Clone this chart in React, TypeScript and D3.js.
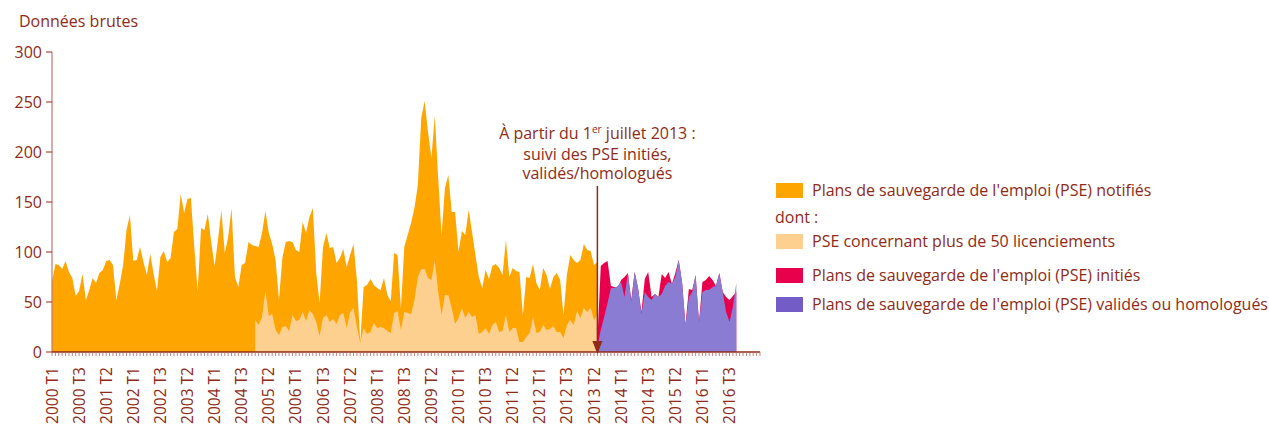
import React, { useEffect, useRef } from "react";
import * as d3 from "d3";

// monthly values, Jan 2000 = index 0
const notifies = [
  70, 88, 87, 83, 91, 80, 74, 56, 61, 78,
  52, 62, 74, 69, 79, 82, 91, 92, 87, 52,
  68, 87, 122, 137, 91, 92, 105, 90, 77, 98,
  78, 61, 95, 101, 90, 94, 120, 123, 158, 139,
  153, 154, 105, 61, 124, 122, 138, 110, 86, 112,
  142, 99, 115, 144, 75, 65, 87, 89, 110, 107,
  106, 105, 119, 141, 119, 108, 92, 52, 94, 110,
  111, 110, 102, 100, 130, 119, 135, 144, 79, 49,
  105, 119, 104, 105, 89, 94, 103, 85, 97, 108,
  72, 10, 65, 67, 73, 67, 64, 62, 74, 57,
  51, 99, 97, 44, 105, 117, 129, 144, 167, 234,
  251, 220, 194, 236, 174, 117, 164, 177, 140, 140,
  100, 121, 117, 142, 120, 97, 75, 64, 82, 73,
  86, 88, 84, 77, 112, 75, 84, 81, 80, 37,
  75, 74, 88, 69, 62, 84, 77, 63, 75, 79,
  72, 37, 77, 97, 92, 89, 92, 108, 102, 101,
  87, 90,
];

// PSE > 50 licenciements, from 2005 T1
const plus50Start = 60;
const plus50 = [
  32, 27, 35, 61, 36, 38, 22, 17, 25, 26,
  21, 37, 31, 32, 40, 31, 42, 38, 30, 16,
  34, 37, 30, 33, 28, 37, 39, 24, 40, 44,
  25, 9, 24, 18, 20, 29, 24, 25, 24, 21,
  19, 39, 41, 22, 40, 39, 38, 52, 75, 83,
  83, 74, 72, 92, 60, 37, 57, 57, 44, 28,
  34, 44, 34, 40, 35, 37, 18, 20, 24, 18,
  27, 30, 20, 21, 37, 20, 24, 24, 10, 10,
  15, 19, 35, 19, 20, 27, 22, 23, 26, 20,
  20, 14, 27, 32, 27, 41, 34, 44, 40, 44,
  32, 37,
];

// from July 2013
const newStart = 161;
const inities = [
  12, 86, 89, 91, 66, 65, 64, 72, 75, 79,
  52, 80, 64, 40, 73, 80, 55, 58, 55, 78,
  74, 80, 68, 79, 92, 70, 27, 63, 62, 77,
  30, 70, 72, 76, 72, 66, 79, 60, 55, 52,
  56, 60,
];
const valides = [
  5, 22, 35, 49, 64, 64, 66, 70, 55, 79,
  50, 80, 64, 38, 60, 55, 52, 58, 55, 58,
  66, 70, 68, 75, 92, 70, 27, 55, 60, 77,
  30, 60, 62, 62, 65, 66, 79, 60, 40, 30,
  45, 69,
];

const tickLabels = [
  "2000 T1", "2000 T3", "2001 T2", "2002 T1", "2002 T3", "2003 T2", "2004 T1",
  "2004 T3", "2005 T2", "2006 T1", "2006 T3", "2007 T2", "2008 T1", "2008 T3",
  "2009 T2", "2010 T1", "2010 T3", "2011 T2", "2012 T1", "2012 T3", "2013 T2",
  "2014 T1", "2014 T3", "2015 T2", "2016 T1", "2016 T3",
];
const yTicks = [0, 50, 100, 150, 200, 250, 300];

const legendItems = [
  { label: "Plans de sauvegarde de l'emploi (PSE) notifiés", color: "#FFA500" },
  { label: "PSE concernant plus de 50 licenciements", color: "#FED08F" },
  { label: "Plans de sauvegarde de l'emploi (PSE) initiés", color: "#E8004C" },
  { label: "Plans de sauvegarde de l'emploi (PSE) validés ou homologués", color: "#745CC6" },
];

const TEXT = "#8E2A16";
const FONT = "'Open Sans', sans-serif";

const App = () => {
  const ref = useRef<SVGSVGElement>(null);

  useEffect(() => {
    const svg = d3.select(ref.current);
    svg.selectAll("*").remove();

    const x = d3.scaleLinear().domain([0, 200]).range([52, 729.5]);
    const y = d3.scaleLinear().domain([0, 300]).range([352, 52]);

    const area = (start: number) =>
      d3
        .area<number>()
        .x((d, i) => x(i + start))
        .y0(y(0))
        .y1((d) => y(d));

    svg.append("path").datum(notifies).attr("fill", "#FFA500").attr("d", area(0));
    svg.append("path").datum(plus50).attr("fill", "#FED08F").attr("d", area(plus50Start));
    svg.append("path").datum(inities).attr("fill", "#E8004C").attr("d", area(newStart));
    svg.append("path").datum(valides).attr("fill", "#8A7BD3").attr("d", area(newStart));

    // y axis
    svg.append("line")
      .attr("x1", x(0)).attr("x2", x(0))
      .attr("y1", y(300)).attr("y2", y(0))
      .attr("stroke", "#BE776D").attr("stroke-width", 1.2);
    yTicks.forEach((t) => {
      svg.append("line")
        .attr("x1", x(0) - 6).attr("x2", x(0))
        .attr("y1", y(t)).attr("y2", y(t))
        .attr("stroke", TEXT).attr("stroke-width", 1);
      svg.append("text")
        .attr("x", x(0) - 10).attr("y", y(t) + 5.5)
        .attr("text-anchor", "end")
        .attr("fill", TEXT).attr("font-size", 16).attr("font-family", FONT)
        .text(t);
    });

    // x axis with monthly ticks
    svg.append("line")
      .attr("x1", x(0)).attr("x2", x(209))
      .attr("y1", y(0)).attr("y2", y(0))
      .attr("stroke", TEXT).attr("stroke-width", 1.5);
    d3.range(0, 210).forEach((m) => {
      svg.append("line")
        .attr("x1", x(m)).attr("x2", x(m))
        .attr("y1", y(0)).attr("y2", y(0) + 4)
        .attr("stroke", "#B0645A").attr("stroke-width", 0.8);
    });
    tickLabels.forEach((lab, k) => {
      svg.append("text")
        .attr("transform", `translate(${x(k * 8) + 5.5},${367}) rotate(-90)`)
        .attr("text-anchor", "end")
        .attr("fill", TEXT).attr("font-size", 15.5).attr("font-family", FONT)
        .text(lab);
    });

    // annotation arrow
    const ax = x(newStart);
    svg.append("line")
      .attr("x1", ax).attr("x2", ax)
      .attr("y1", 186).attr("y2", 344)
      .attr("stroke", TEXT).attr("stroke-width", 1.5);
    svg.append("path")
      .attr("d", `M${ax - 5},${341} L${ax + 5},${341} L${ax},${354} Z`)
      .attr("fill", TEXT);

    const l1 = svg.append("text")
      .attr("x", ax).attr("y", 139)
      .attr("text-anchor", "middle")
      .attr("fill", TEXT).attr("font-size", 16).attr("font-family", FONT);
    l1.append("tspan").text("À partir du 1");
    l1.append("tspan").attr("font-size", 10).attr("dy", -6).text("er");
    l1.append("tspan").attr("dy", 6).text(" juillet 2013 :");
    ["suivi des PSE initiés,", "validés/homologués"].forEach((s, k) => {
      svg.append("text")
        .attr("x", ax).attr("y", 160 + k * 19)
        .attr("text-anchor", "middle")
        .attr("fill", TEXT).attr("font-size", 16).attr("font-family", FONT)
        .text(s);
    });

    // title
    svg.append("text")
      .attr("x", 19).attr("y", 27)
      .attr("fill", TEXT).attr("font-size", 16).attr("font-family", FONT)
      .text("Données brutes");

    // legend
    const rows = [190, 241, 275, 304];
    legendItems.forEach((it, k) => {
      svg.append("rect")
        .attr("x", 776).attr("y", rows[k] - 7)
        .attr("width", 27).attr("height", 15)
        .attr("fill", it.color);
      svg.append("text")
        .attr("x", 812).attr("y", rows[k] + 5.5)
        .attr("fill", TEXT).attr("font-size", 16).attr("font-family", FONT)
        .text(it.label);
    });
    svg.append("text")
      .attr("x", 775).attr("y", 223)
      .attr("fill", TEXT).attr("font-size", 16).attr("font-family", FONT)
      .text("dont :");
  }, []);

  return (
    <svg
      ref={ref}
      width={1269}
      height={426}
      style={{ position: "absolute", left: 0, top: 0, background: "#fff" }}
    />
  );
};

export default App;
